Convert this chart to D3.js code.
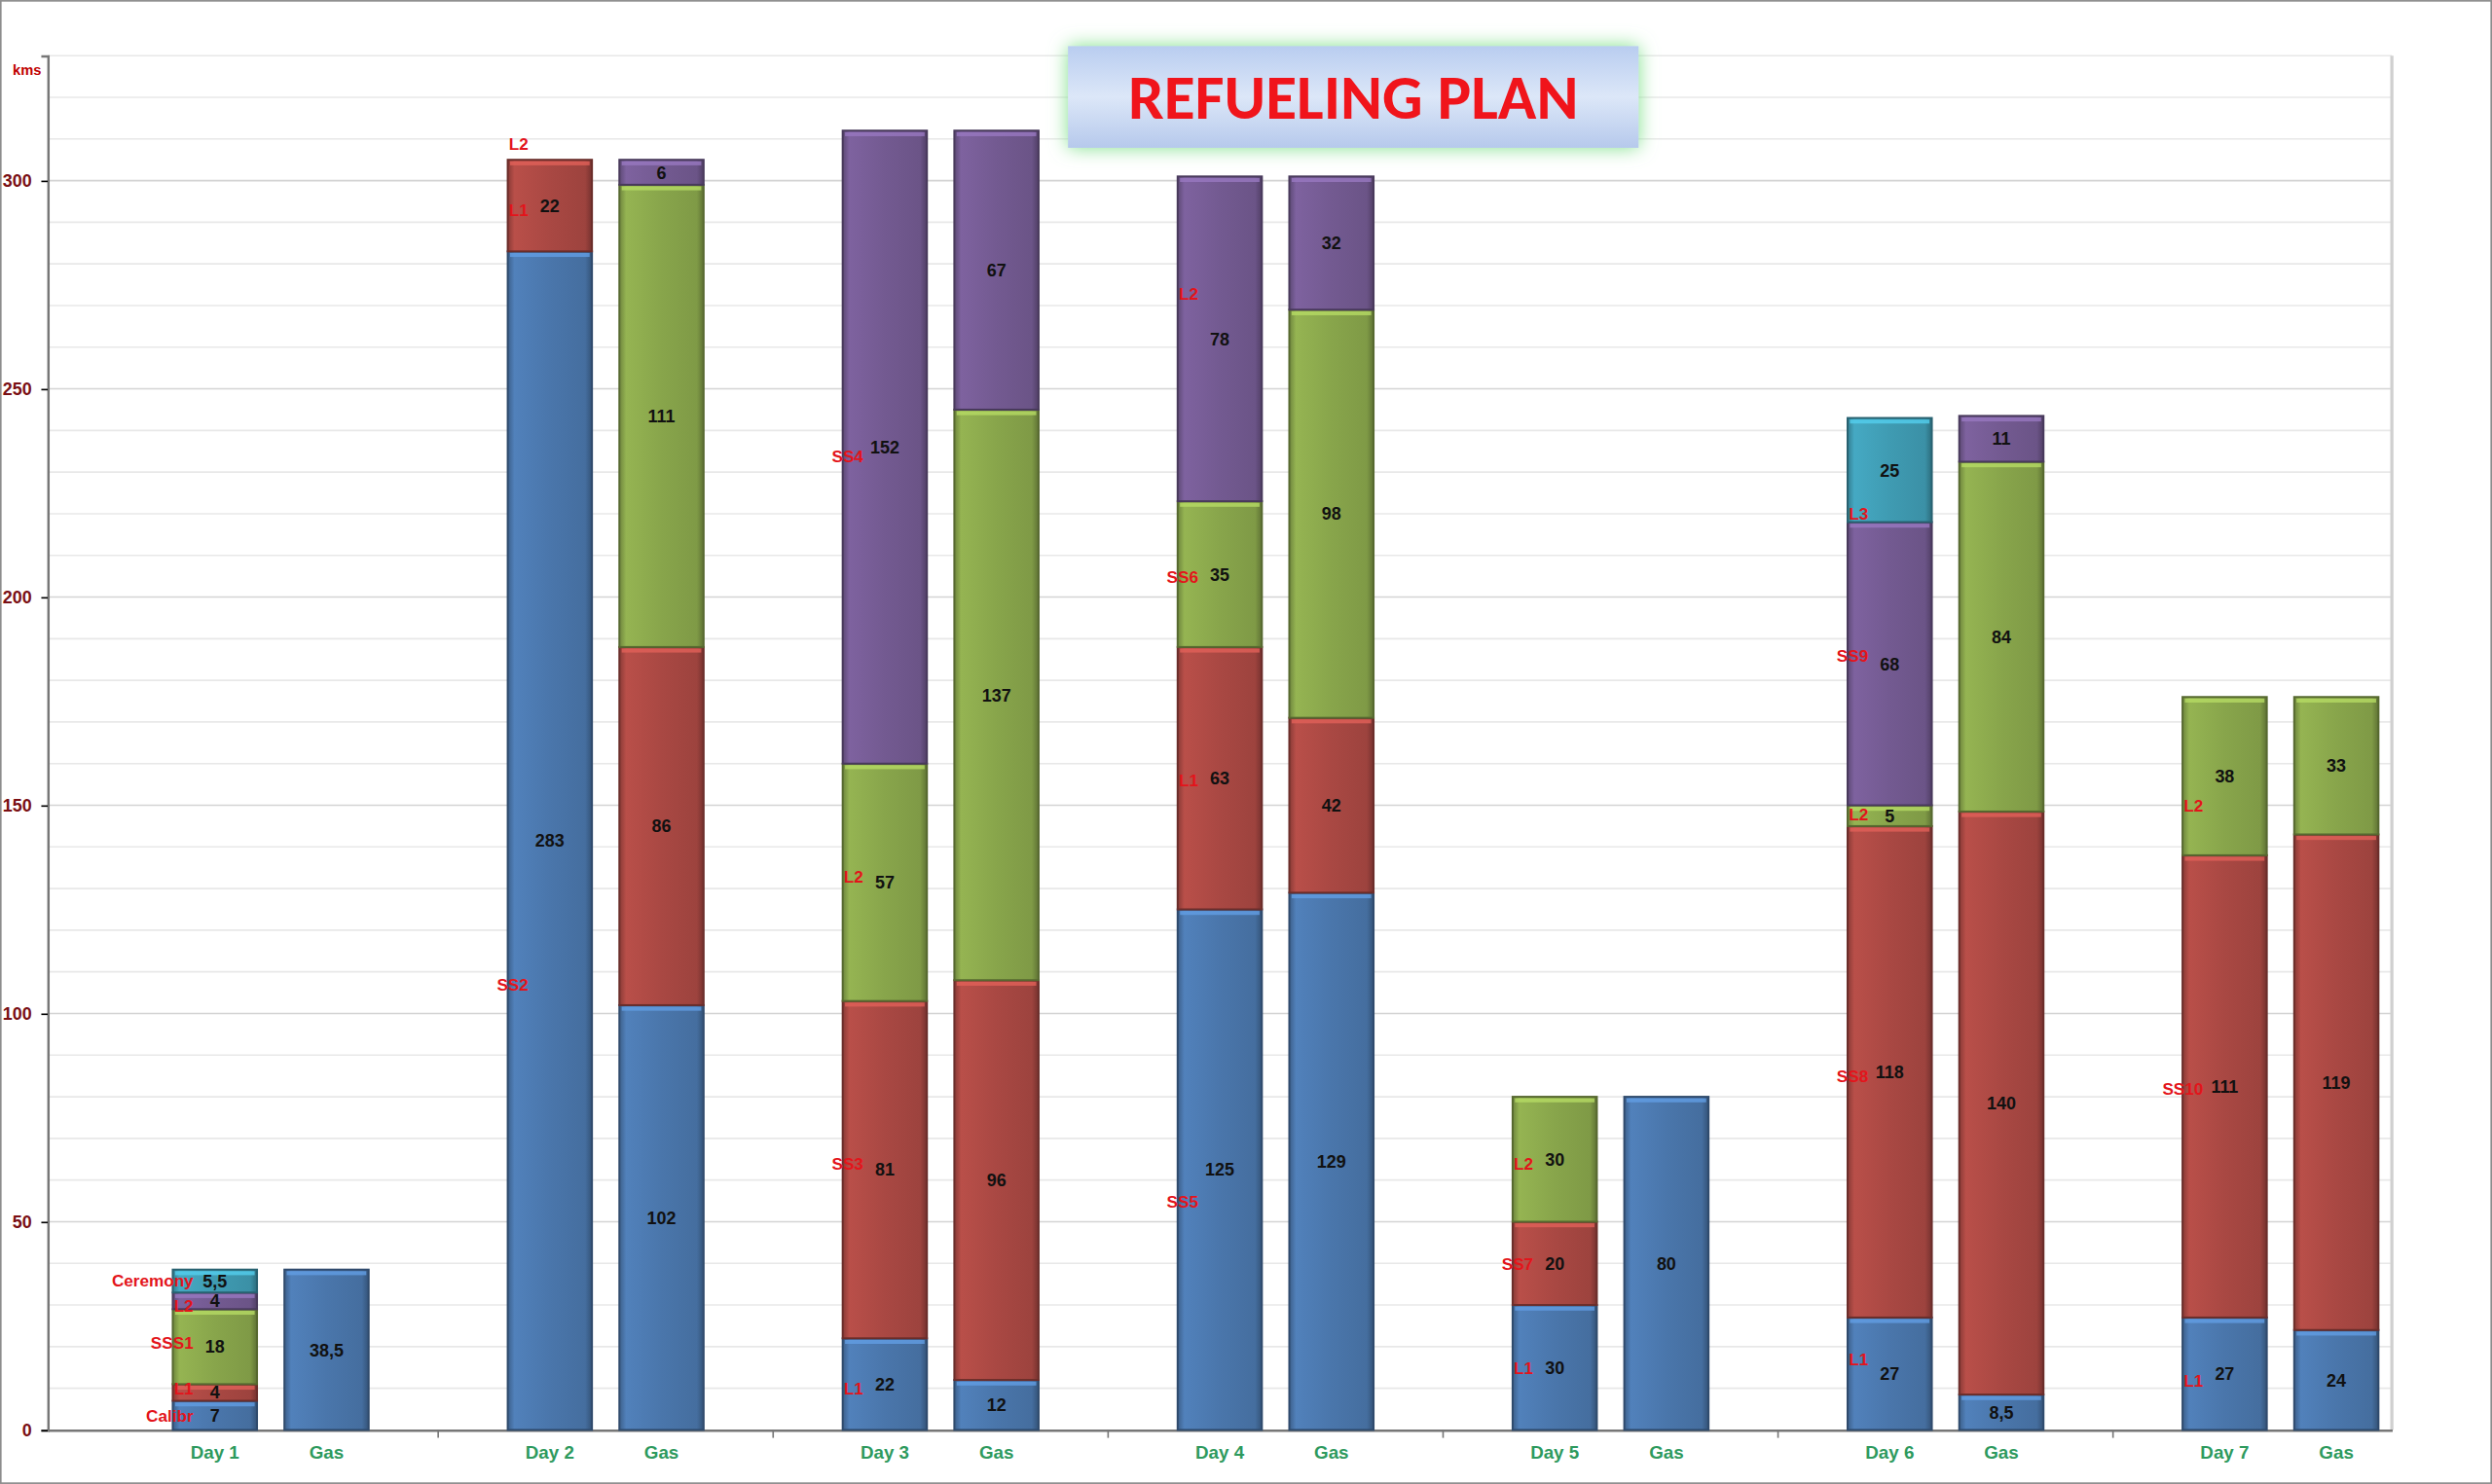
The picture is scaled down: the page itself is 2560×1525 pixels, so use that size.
<!DOCTYPE html>
<html><head><meta charset="utf-8">
<script src="https://cdn.jsdelivr.net/npm/d3@7"></script>
<style>body{margin:0;background:#fff}svg{display:block}</style>
</head><body>
<svg id="chart" width="2560" height="1525" viewBox="0 0 1568 934"></svg>
<script>
// Categories (empty strings are spacer slots)
let categories = ["", "Day 1", "Gas", "", "Day 2", "Gas", "", "Day 3", "Gas", "", "Day 4", "Gas", "", "Day 5", "Gas", "", "Day 6", "Gas", "", "Day 7", "Gas"];
let blueValues   = [0, 7, 38.5, 0, 283, 102, 0, 22, 12, 0, 125, 129, 0, 30, 80, 0, 27, 8.5, 0, 27, 24];
let redValues    = [0, 4, 0, 0, 22, 86, 0, 81, 96, 0, 63, 42, 0, 20, 0, 0, 118, 140, 0, 111, 119];
let greenValues  = [0, 18, 0, 0, 0, 111, 0, 57, 137, 0, 35, 98, 0, 30, 0, 0, 5, 84, 0, 38, 33];
let purpleValues = [0, 4, 0, 0, 0, 6, 0, 152, 67, 0, 78, 32, 0, 0, 0, 0, 68, 11, 0, 0, 0];
let tealValues   = [0, 5.5, 0, 0, 0, 0, 0, 0, 0, 0, 0, 0, 0, 0, 0, 0, 25, 0, 0, 0, 0];

// Stage names beside each day bar: [category, name, y-value]
let stageLabels = [
  ["Day 1", "Calibr", 3.5], ["Day 1", "L1", 10], ["Day 1", "SSS1", 21], ["Day 1", "L2", 30], ["Day 1", "Ceremony", 36],
  ["Day 2", "SS2", 107], ["Day 2", "L1", 293], ["Day 2", "L2", 309],
  ["Day 3", "L1", 10], ["Day 3", "SS3", 64], ["Day 3", "L2", 133], ["Day 3", "SS4", 234],
  ["Day 4", "SS5", 55], ["Day 4", "L1", 156], ["Day 4", "SS6", 205], ["Day 4", "L2", 273],
  ["Day 5", "L1", 15], ["Day 5", "SS7", 40], ["Day 5", "L2", 64],
  ["Day 6", "L1", 17], ["Day 6", "SS8", 85], ["Day 6", "L2", 148], ["Day 6", "SS9", 186], ["Day 6", "L3", 220],
  ["Day 7", "L1", 12], ["Day 7", "SS10", 82], ["Day 7", "L2", 150]
];
let yTicks = [0, 50, 100, 150, 200, 250, 300];

let svg = d3.select("#chart");
let margin = { l: 30, r: 63, t: 35, b: 34 };
let W = 1568, H = 934;

let x = d3.scaleBand().domain(d3.range(categories.length)).range([margin.l, W - margin.r]).paddingInner(0.245).paddingOuter(0.12);
let y = d3.scaleLinear().domain([0, 330]).range([H - margin.b, margin.t]);

// outer frame
svg.append("rect").attr("x", 0.5).attr("y", 0.5).attr("width", W - 1).attr("height", H - 1)
  .attr("fill", "#fff").attr("stroke", "#8c8c8c");

let defs = svg.append("defs");
let colors = { blue: "#4a76ab", red: "#a94843", green: "#88a54b", purple: "#735a91", teal: "#3f9bb2" };
Object.entries(colors).forEach(([k, c]) => {
  let g = defs.append("linearGradient").attr("id", "g-" + k).attr("x1", 0).attr("x2", 1);
  g.append("stop").attr("offset", 0).attr("stop-color", d3.color(c).darker(0.6));
  g.append("stop").attr("offset", 0.08).attr("stop-color", d3.color(c).brighter(0.25));
  g.append("stop").attr("offset", 0.5).attr("stop-color", c);
  g.append("stop").attr("offset", 0.92).attr("stop-color", d3.color(c).darker(0.2));
  g.append("stop").attr("offset", 1).attr("stop-color", d3.color(c).darker(1));
});
let glow = defs.append("filter").attr("id", "glow").attr("x", "-20%").attr("y", "-40%").attr("width", "140%").attr("height", "180%");
glow.append("feGaussianBlur").attr("in", "SourceAlpha").attr("stdDeviation", 6).attr("result", "b");
glow.append("feFlood").attr("flood-color", "#7fe08a");
glow.append("feComposite").attr("in2", "b").attr("operator", "in");
let fm = glow.append("feMerge"); fm.append("feMergeNode"); fm.append("feMergeNode").attr("in", "SourceGraphic");

// gridlines every 10
svg.append("g").selectAll("line").data(d3.range(10, 331, 10)).join("line")
  .attr("x1", margin.l).attr("x2", W - margin.r).attr("y1", d => y(d)).attr("y2", d => y(d))
  .attr("stroke", d => d % 50 === 0 ? "#d4d4d4" : "#e8e8e8").attr("stroke-width", 1);
svg.append("line").attr("x1", W - margin.r).attr("x2", W - margin.r).attr("y1", y(330)).attr("y2", y(0))
  .attr("stroke", "#d0d0d0").attr("stroke-width", 2);

// y axis
let yAxis = svg.append("g").attr("transform", `translate(${margin.l},0)`)
  .call(d3.axisLeft(y).tickValues(yTicks).tickSize(4).tickPadding(6));
yAxis.select(".domain").attr("stroke", "#777").attr("stroke-width", 1.5);
yAxis.selectAll("text").attr("fill", "#7a0f14").attr("font-family", "Arial, Liberation Sans, sans-serif")
  .attr("font-weight", "bold").attr("font-size", 11);
svg.append("text").attr("x", 17).attr("y", 47).attr("text-anchor", "middle").text("kms")
  .attr("fill", "#c00000").attr("font-family", "Arial, Liberation Sans, sans-serif").attr("font-weight", "bold").attr("font-size", 9);

// x axis
let xAxis = svg.append("g").attr("transform", `translate(0,${y(0)})`)
  .call(d3.axisBottom(x).tickFormat(i => categories[i]).tickSize(0).tickPadding(10));
xAxis.select(".domain").attr("stroke", "#777").attr("stroke-width", 1.5);
xAxis.selectAll("text").attr("fill", "#2e9a5e").attr("font-family", "Arial, Liberation Sans, sans-serif")
  .attr("font-weight", "bold").attr("font-size", 11.5);
// separators between pairs
svg.append("g").selectAll("line").data(d3.range(0, categories.length, 3).slice(1)).join("line")
  .attr("x1", i => x(i) + x.bandwidth() / 2).attr("x2", i => x(i) + x.bandwidth() / 2)
  .attr("y1", y(0)).attr("y2", y(0) + 5).attr("stroke", "#777");

// stacked bars
let series = [["blue", blueValues], ["red", redValues], ["green", greenValues], ["purple", purpleValues], ["teal", tealValues]];
let fmt = v => String(v).replace(".", ",");
let bars = svg.append("g");
categories.forEach((c, i) => {
  let base = 0;
  series.forEach(([k, vals]) => {
    let v = vals[i];
    if (!v) return;
    let y0 = y(base), y1 = y(base + v);
    bars.append("rect").attr("x", x(i)).attr("y", y1).attr("width", x.bandwidth()).attr("height", y0 - y1)
      .attr("fill", `url(#g-${k})`).attr("stroke", d3.color(colors[k]).darker(1.3)).attr("stroke-width", 1.2);
    bars.append("rect").attr("x", x(i) + 1.5).attr("y", y1 + 1).attr("width", x.bandwidth() - 3).attr("height", 2.5)
      .attr("fill", d3.color(colors[k]).brighter(0.8)).attr("opacity", 0.8);
    bars.append("text").attr("x", x(i) + x.bandwidth() / 2).attr("y", (y0 + y1) / 2 + 4)
      .attr("text-anchor", "middle").text(fmt(v))
      .attr("font-family", "Arial, Liberation Sans, sans-serif").attr("font-weight", "bold").attr("font-size", 11).attr("fill", "#111");
    base += v;
  });
});

// stage labels
svg.append("g").selectAll("text").data(stageLabels).join("text")
  .attr("x", d => x(categories.indexOf(d[0])) + 13).attr("y", d => y(d[2]) + 4)
  .attr("text-anchor", "end").text(d => d[1])
  .attr("fill", "#e3141b").attr("font-family", "Arial, Liberation Sans, sans-serif").attr("font-weight", "bold").attr("font-size", 10.5);

// title
let tg = defs.append("linearGradient").attr("id", "titleGrad").attr("x1", 0).attr("x2", 0).attr("y1", 0).attr("y2", 1);
tg.append("stop").attr("offset", 0).attr("stop-color", "#b9cdf0");
tg.append("stop").attr("offset", 0.5).attr("stop-color", "#dce7f8");
tg.append("stop").attr("offset", 1).attr("stop-color", "#b6c9ec");
svg.append("rect").attr("x", 672).attr("y", 29).attr("width", 359).attr("height", 64)
  .attr("fill", "url(#titleGrad)").attr("filter", "url(#glow)");
svg.append("text").attr("x", 851.5).attr("y", 75).attr("text-anchor", "middle").text("REFUELING PLAN")
  .attr("fill", "#f0141b").attr("font-family", "Calibri, Carlito, Liberation Sans, Arial, sans-serif")
  .attr("font-weight", "bold").attr("font-size", 40);
</script>
</body></html>
